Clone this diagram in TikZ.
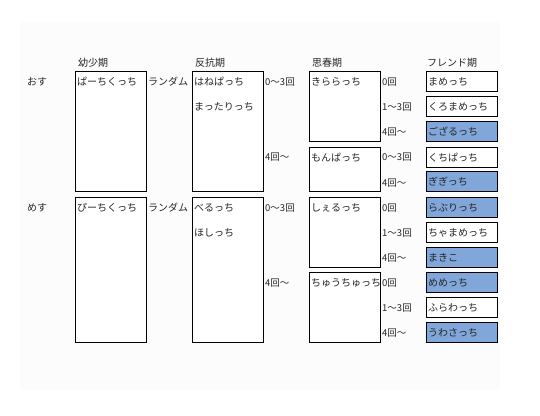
\documentclass[tikz,border=0pt]{standalone}
\usepackage{fontspec}
\setmainfont{Noto Sans CJK JP}
\definecolor{fblue}{RGB}{128,166,218}
\definecolor{bgpanel}{RGB}{252,252,252}
\begin{document}
\begin{tikzpicture}[x=1pt,y=-1pt,
  every node/.style={font=\fontsize{10}{12}\selectfont, inner sep=0pt},
  bigbox/.style={draw=black, line width=1.1pt, fill=white, anchor=north west, minimum width=71pt},
  fbox/.style={draw=black, line width=1.1pt, fill=white, anchor=north west, minimum width=71pt, minimum height=20pt},
  fboxb/.style={fbox, fill=fblue},
  txt/.style={anchor=west, text=black!85},
  hdr/.style={anchor=west, text=black!85},
  cnt/.style={anchor=west, text=black!85, font=\fontsize{9.5}{11}\selectfont}]
\useasboundingbox (0,0) rectangle (540,415);
\fill[white] (0,0) rectangle (540,415);
\fill[bgpanel] (20,22) rectangle (500,390);
% headers
\node[hdr] (h1) at (78,63) {幼少期};
\node[hdr] (h2) at (195,63) {反抗期};
\node[hdr] (h3) at (312,63) {思春期};
\node[hdr] (h4) at (427,63) {フレンド期};
% side labels
\node[txt] (osu) at (27,82) {おす};
\node[txt] (mesu) at (27,208) {めす};
% ===== male =====
\node[bigbox, minimum height=120pt] (ym) at (75,71) {};
\node[txt] at ([xshift=2pt,yshift=-11pt]ym.north west) {ぱーちくっち};
\node[txt] (rm) at (148,82) {ランダム};
\node[bigbox, minimum height=120pt] (hm) at (192,71) {};
\node[txt] at ([xshift=2pt,yshift=-11pt]hm.north west) {はねぱっち};
\node[txt] at ([xshift=2pt,yshift=-36pt]hm.north west) {まったりっち};
\node[cnt] at (265,82) {0〜3回};
\node[cnt] at (265,157) {4回〜};
\node[bigbox, minimum height=70pt] (sm1) at (309,71) {};
\node[txt] at ([xshift=2pt,yshift=-11pt]sm1.north west) {きららっち};
\node[bigbox, minimum height=44pt] (sm2) at (309,147) {};
\node[txt] at ([xshift=2pt,yshift=-11pt]sm2.north west) {もんぱっち};
\node[cnt] at (382,82) {0回};
\node[cnt] at (382,107) {1〜3回};
\node[cnt] at (382,132) {4回〜};
\node[cnt] at (382,157) {0〜3回};
\node[cnt] at (382,183) {4回〜};
\node[fbox]  (f1) at (426,71) {};
\node[txt] at ([xshift=2pt]f1.west) {まめっち};
\node[fbox]  (f2) at (426,96) {};
\node[txt] at ([xshift=2pt]f2.west) {くろまめっち};
\node[fboxb] (f3) at (426,121) {};
\node[txt] at ([xshift=2pt]f3.west) {ござるっち};
\node[fbox]  (f4) at (426,147) {};
\node[txt] at ([xshift=2pt]f4.west) {くちぱっち};
\node[fboxb] (f5) at (426,171) {};
\node[txt] at ([xshift=2pt]f5.west) {ぎぎっち};
% ===== female =====
\node[bigbox, minimum height=145pt] (yf) at (75,197) {};
\node[txt] at ([xshift=2pt,yshift=-11pt]yf.north west) {ぴーちくっち};
\node[txt] (rf) at (148,208) {ランダム};
\node[bigbox, minimum height=145pt] (hf) at (192,197) {};
\node[txt] at ([xshift=2pt,yshift=-11pt]hf.north west) {べるっち};
\node[txt] at ([xshift=2pt,yshift=-36pt]hf.north west) {ほしっち};
\node[cnt] at (265,208) {0〜3回};
\node[cnt] at (265,283) {4回〜};
\node[bigbox, minimum height=70pt] (sf1) at (309,197) {};
\node[txt] at ([xshift=2pt,yshift=-11pt]sf1.north west) {しぇるっち};
\node[bigbox, minimum height=70pt] (sf2) at (309,272) {};
\node[txt] at ([xshift=2pt,yshift=-11pt]sf2.north west) {ちゅうちゅっち};
\node[cnt] at (382,208) {0回};
\node[cnt] at (382,233) {1〜3回};
\node[cnt] at (382,258) {4回〜};
\node[cnt] at (382,283) {0回};
\node[cnt] at (382,308) {1〜3回};
\node[cnt] at (382,333) {4回〜};
\node[fboxb] (g1) at (426,197) {};
\node[txt] at ([xshift=2pt]g1.west) {らぶりっち};
\node[fbox]  (g2) at (426,222) {};
\node[txt] at ([xshift=2pt]g2.west) {ちゃまめっち};
\node[fboxb] (g3) at (426,247) {};
\node[txt] at ([xshift=2pt]g3.west) {まきこ};
\node[fboxb] (g4) at (426,272) {};
\node[txt] at ([xshift=2pt]g4.west) {めめっち};
\node[fbox]  (g5) at (426,297) {};
\node[txt] at ([xshift=2pt]g5.west) {ふらわっち};
\node[fboxb] (g6) at (426,322) {};
\node[txt] at ([xshift=2pt]g6.west) {うわさっち};
\end{tikzpicture}
\end{document}
